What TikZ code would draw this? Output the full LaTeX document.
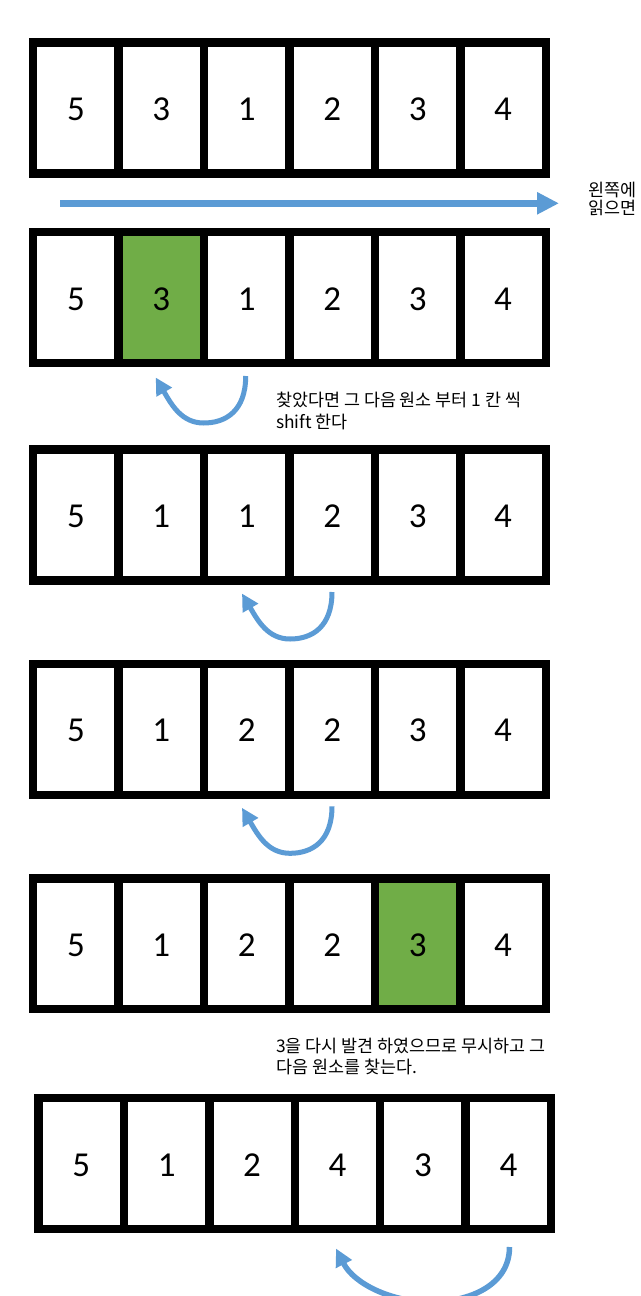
\documentclass[tikz,border=0pt]{standalone}
\usepackage{fontspec}
\newfontfamily\numfont{Carlito}
\newfontfamily\kfont{Noto Sans CJK KR}
\usetikzlibrary{arrows.meta}
\definecolor{offblue}{HTML}{5B9BD5}
\definecolor{offgreen}{HTML}{70AD47}
\newcommand\uarrow[3]{%
  \coordinate (#1s) at (#2,#3);
  \coordinate (#1t) at (#2-90,#3+1.5);
  \draw[curv] (#1s) .. controls (#2,#3+35) and (#2-20,#3+47) .. (#2-42,#3+47)
     .. controls (#2-64,#3+47) and (#2-74,#3+29) .. (#1t);
}
\begin{document}
\begin{tikzpicture}[x=1pt,y=-1pt,
  cell/.style={draw=black, line width=8.4pt, minimum width=85.43pt, minimum height=130.8pt,
    inner sep=0pt, outer sep=0pt, text height=25pt, text depth=0pt,
    font=\numfont\fontsize{35}{40}\selectfont, text=black},
  ktext/.style={font=\kfont\fontsize{17.4}{20}\selectfont, inner sep=0pt, anchor=base west, text=black},
  straight/.style={draw=offblue, line width=7.5pt, -{Triangle[length=22pt,width=21pt]}},
  curv/.style={draw=offblue, line width=5pt, -{Triangle[length=17pt,width=17pt]}},
  curvbig/.style={draw=offblue, line width=5.5pt, -{Triangle[length=17.5pt,width=17pt]}}]
\path[use as bounding box, fill=white] (0,0) rectangle (640,1296);

% row 1
\foreach \v/\c [count=\i] in {5/none,3/none,1/none,2/none,3/none,4/none}
  \node[cell, fill=\c] (r1c\i) at ({33.2+85.43*(\i-0.5)}, 107.9) {\v};
% row 2
\foreach \v/\c [count=\i] in {5/none,3/offgreen,1/none,2/none,3/none,4/none}
  \node[cell, fill=\c] (r2c\i) at ({33.2+85.43*(\i-0.5)}, 297.5) {\v};
% row 3
\foreach \v/\c [count=\i] in {5/none,1/none,1/none,2/none,3/none,4/none}
  \node[cell, fill=\c] (r3c\i) at ({33.2+85.43*(\i-0.5)}, 515) {\v};
% row 4
\foreach \v/\c [count=\i] in {5/none,1/none,2/none,2/none,3/none,4/none}
  \node[cell, fill=\c] (r4c\i) at ({33.2+85.43*(\i-0.5)}, 729.3) {\v};
% row 5
\foreach \v/\c [count=\i] in {5/none,1/none,2/none,2/none,3/offgreen,4/none}
  \node[cell, fill=\c] (r5c\i) at ({33.2+85.43*(\i-0.5)}, 943.8) {\v};
% row 6
\foreach \v/\c [count=\i] in {5/none,1/none,2/none,4/none,3/none,4/none}
  \node[cell, fill=\c] (r6c\i) at ({38.5+85.43*(\i-0.5)}, 1163.5) {\v};

% straight arrow
\coordinate (h1) at (60.4,203.3);
\coordinate (h2) at (559,203.3);
\draw[straight] (h1) -- (h2);

% curved arrows
\uarrow{a2}{245.7}{376}
\uarrow{a3}{332}{592}
\uarrow{a4}{332}{806.3}

\coordinate (a5s) at (509.5,1247);
\coordinate (a5t) at (336,1248.5);
\draw[curvbig] (a5s) .. controls (509.5,1285) and (470,1302) .. (430,1302)
   .. controls (392,1302) and (354,1284) .. (a5t);

% texts
\node[ktext] (n1a) at (588,196) {왼쪽에};
\node[ktext] (n1b) at (588,214) {읽으면};
\node[ktext] (n2a) at (276,406) {찾았다면 그 다음 원소 부터 1 칸 씩};
\node[ktext] (n2b) at (276,428) {shift 한다};
\node[ktext] (n3a) at (276,1052.5) {3을 다시 발견 하였으므로 무시하고 그};
\node[ktext] (n3b) at (276,1073) {다음 원소를 찾는다.};
\end{tikzpicture}
\end{document}
